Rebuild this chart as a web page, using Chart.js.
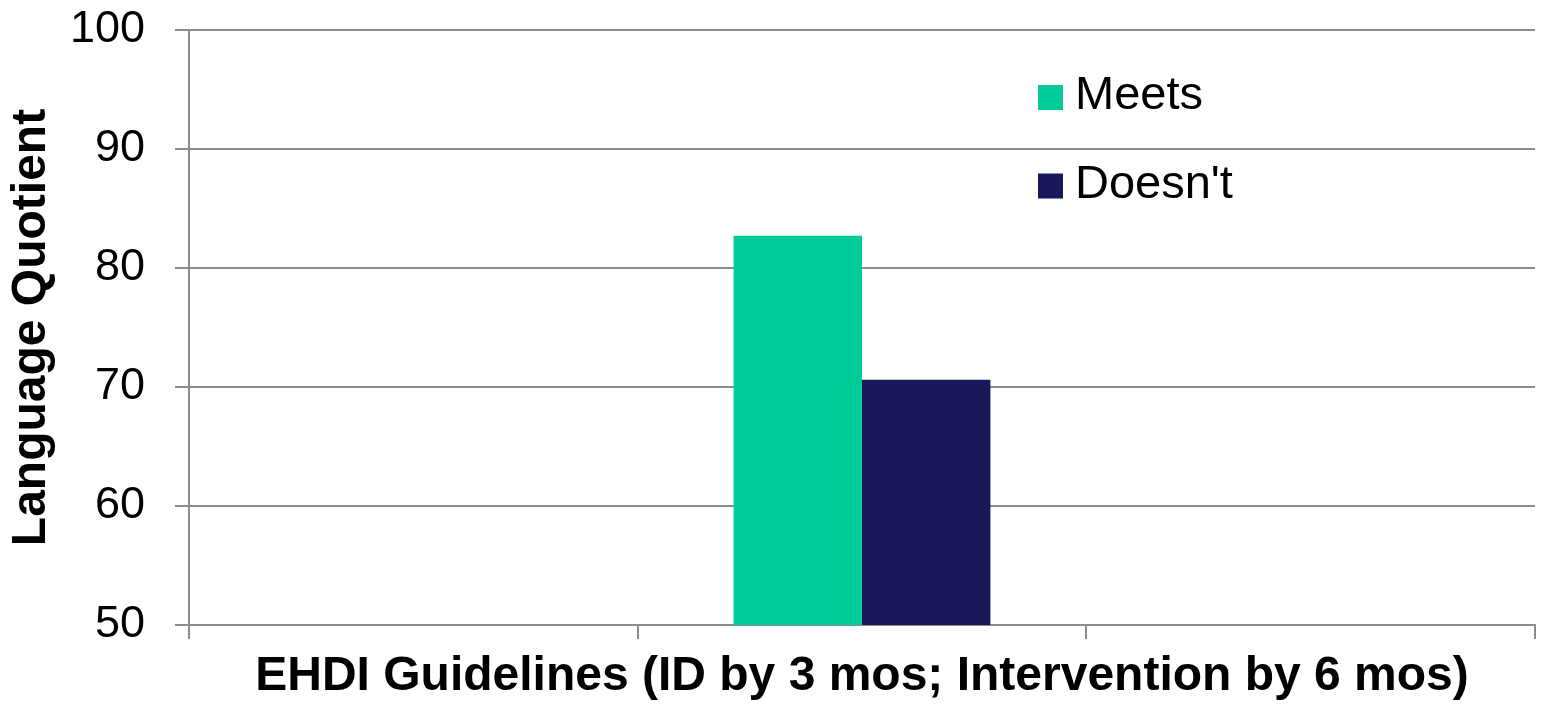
<!DOCTYPE html>
<html>
<head>
<meta charset="utf-8">
<script src="https://cdn.jsdelivr.net/npm/chart.js@4/dist/chart.umd.min.js"></script>
<style>
  html, body { margin: 0; padding: 0; background: #ffffff; }
  #wrap { width: 1544px; height: 707px; position: relative; }
</style>
</head>
<body>
<div id="wrap"><canvas id="c" width="1544" height="707"></canvas></div>
<script>
// ---- data ----
const categories = ['', '', ''];
const seriesNames = ['Meets', "Doesn't"];
const meetsValues = [null, 82.7, null];
const doesntValues = [null, 70.6, null];
const yTicks = [50, 60, 70, 80, 90, 100];
const xAxisTitle = 'EHDI Guidelines (ID by 3 mos; Intervention by 6 mos)';
const yAxisTitle = 'Language Quotient';

const FONT = "'Liberation Sans', Arial, Helvetica, sans-serif";
const GRID = '#8c8c8c';

const legendPlugin = {
  id: 'customLegend',
  afterDraw(chart) {
    const ctx = chart.ctx;
    const area = chart.chartArea;
    const x0 = area.left + 849;
    const ys = [area.top + 67.5, area.top + 156];
    ctx.save();
    ctx.font = '47px ' + FONT;
    ctx.textBaseline = 'middle';
    ctx.textAlign = 'left';
    chart.data.datasets.forEach((ds, i) => {
      const y = ys[i];
      ctx.fillStyle = ds.backgroundColor;
      ctx.fillRect(x0, y - 12.5, 25, 25);
      ctx.fillStyle = '#000000';
      ctx.fillText(ds.label, x0 + 37, y - 1);
    });
    ctx.restore();
  }
};

new Chart(document.getElementById('c'), {
  type: 'bar',
  data: {
    labels: categories,
    datasets: [
      { label: seriesNames[0], data: meetsValues, backgroundColor: '#00cc99', borderWidth: 0 },
      { label: seriesNames[1], data: doesntValues, backgroundColor: '#171759', borderWidth: 0 }
    ]
  },
  options: {
    responsive: false,
    animation: false,
    devicePixelRatio: 1,
    categoryPercentage: 0.5724,
    barPercentage: 1.0,
    layout: { padding: { top: 30, right: 9, bottom: 0, left: 0 } },
    plugins: {
      legend: { display: false },
      tooltip: { enabled: false }
    },
    scales: {
      x: {
        offset: true,
        grid: {
          offset: true,
          drawOnChartArea: false,
          drawTicks: true,
          tickLength: 14,
          color: GRID,
          lineWidth: 2
        },
        border: { display: true, color: GRID, width: 2 },
        ticks: { display: false },
        title: {
          display: true,
          text: xAxisTitle,
          color: '#000000',
          font: { family: FONT, size: 48, weight: 'bold', lineHeight: 1.2 },
          padding: { top: 0, bottom: 1 }
        },
        afterFit(scale) { scale.height = 82; }
      },
      y: {
        min: 50,
        max: 100,
        afterBuildTicks(scale) { scale.ticks = yTicks.map(v => ({ value: v })); },
        grid: {
          drawOnChartArea: true,
          drawTicks: true,
          tickLength: 14,
          color: GRID,
          lineWidth: 2
        },
        border: { display: true, color: GRID, width: 2 },
        ticks: {
          color: '#000000',
          padding: 30,
          font: { family: FONT, size: 45 }
        },
        title: {
          display: true,
          text: yAxisTitle,
          color: '#000000',
          font: { family: FONT, size: 48, weight: 'bold', lineHeight: 1.2 },
          padding: { top: 3, bottom: 0 }
        },
        afterFit(scale) {
          scale.width = 189;
          scale.paddingTop = 0;
          scale.paddingBottom = 0;
        }
      }
    }
  },
  plugins: [legendPlugin]
});
</script>
</body>
</html>
